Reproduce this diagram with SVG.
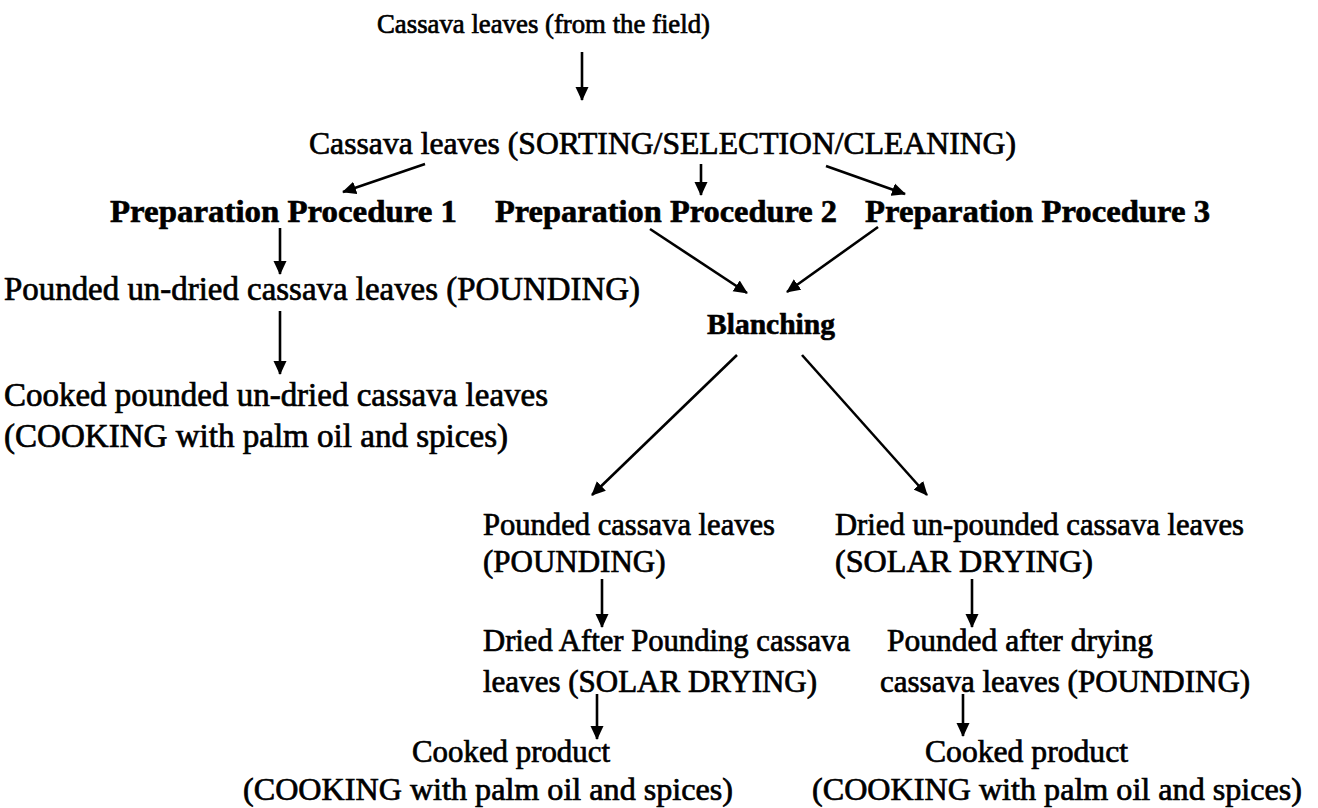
<svg xmlns="http://www.w3.org/2000/svg" width="1318" height="808" viewBox="0 0 1318 808">
<defs>
<marker id="ah" markerWidth="14" markerHeight="14" refX="13" refY="7" orient="auto" markerUnits="userSpaceOnUse">
<path d="M0,0.5 L14,7 L0,13.5 Z" fill="#000"/>
</marker>
<style>
text{font-family:"Liberation Serif","Times New Roman",serif;fill:#000;stroke:#000;stroke-width:0.7;font-size:31px}
.b{font-weight:bold;font-size:31px;stroke-width:0.6}
.c line{stroke:#000;stroke-width:2.6;marker-end:url(#ah)}
</style>
</defs>
<rect width="1318" height="808" fill="#fff"/>
<g id="n1"><text x="377" y="33" textLength="333" lengthAdjust="spacingAndGlyphs" style="font-size:27px">Cassava leaves (from the field)</text></g>
<g id="n2"><text x="309" y="154" textLength="707" lengthAdjust="spacingAndGlyphs" style="font-size:32px">Cassava leaves (SORTING/SELECTION/CLEANING)</text></g>
<g id="n3"><text class="b" x="110" y="222" textLength="347" lengthAdjust="spacingAndGlyphs">Preparation Procedure 1</text></g>
<g id="n4"><text class="b" x="495" y="222" textLength="342" lengthAdjust="spacingAndGlyphs">Preparation Procedure 2</text></g>
<g id="n5"><text class="b" x="865" y="222" textLength="345" lengthAdjust="spacingAndGlyphs">Preparation Procedure 3</text></g>
<g id="n6"><text x="4" y="300" textLength="636" lengthAdjust="spacingAndGlyphs" style="font-size:33px">Pounded un-dried cassava leaves (POUNDING)</text></g>
<g id="n7"><text class="b" x="707" y="334" textLength="128" lengthAdjust="spacingAndGlyphs" style="font-size:30px">Blanching</text></g>
<g id="n8"><text x="4" y="406" textLength="544" lengthAdjust="spacingAndGlyphs" style="font-size:33px">Cooked pounded un-dried cassava leaves</text><text x="4" y="447" textLength="504" lengthAdjust="spacingAndGlyphs" style="font-size:33px">(COOKING with palm oil and spices)</text></g>
<g id="n9"><text x="483" y="535" textLength="292" lengthAdjust="spacingAndGlyphs">Pounded cassava leaves</text><text x="483" y="572">(POUNDING)</text></g>
<g id="n10"><text x="835" y="535" textLength="409" lengthAdjust="spacingAndGlyphs">Dried un-pounded cassava leaves</text><text x="835" y="572" textLength="258" lengthAdjust="spacingAndGlyphs">(SOLAR DRYING)</text></g>
<g id="n11"><text x="483" y="651" textLength="367" lengthAdjust="spacingAndGlyphs">Dried After Pounding cassava</text><text x="483" y="692">leaves (SOLAR DRYING)</text></g>
<g id="n12"><text x="887" y="651" textLength="266" lengthAdjust="spacingAndGlyphs">Pounded after drying</text><text x="880" y="692">cassava leaves (POUNDING)</text></g>
<g id="n13"><text x="412" y="762" textLength="198" lengthAdjust="spacingAndGlyphs">Cooked product</text><text x="243" y="800" textLength="490" lengthAdjust="spacingAndGlyphs" style="font-size:32px">(COOKING with palm oil and spices)</text></g>
<g id="n14"><text x="925" y="762" textLength="203" lengthAdjust="spacingAndGlyphs">Cooked product</text><text x="812" y="800" textLength="490" lengthAdjust="spacingAndGlyphs" style="font-size:32px">(COOKING with palm oil and spices)</text></g>
<g id="connectors" class="c">
<line x1="582" y1="52" x2="582" y2="100"/>
<line x1="425" y1="164" x2="343" y2="192"/>
<line x1="701" y1="164" x2="701" y2="195"/>
<line x1="826" y1="166" x2="905" y2="194"/>
<line x1="280" y1="228" x2="280" y2="274"/>
<line x1="650" y1="229" x2="747" y2="293"/>
<line x1="878" y1="227" x2="787" y2="292"/>
<line x1="280" y1="311" x2="280" y2="374"/>
<line x1="737" y1="355" x2="592" y2="495"/>
<line x1="802" y1="355" x2="927" y2="495"/>
<line x1="602" y1="579" x2="602" y2="627"/>
<line x1="972" y1="579" x2="972" y2="627"/>
<line x1="597" y1="694" x2="597" y2="739"/>
<line x1="963" y1="694" x2="963" y2="736"/>
</g>
</svg>
